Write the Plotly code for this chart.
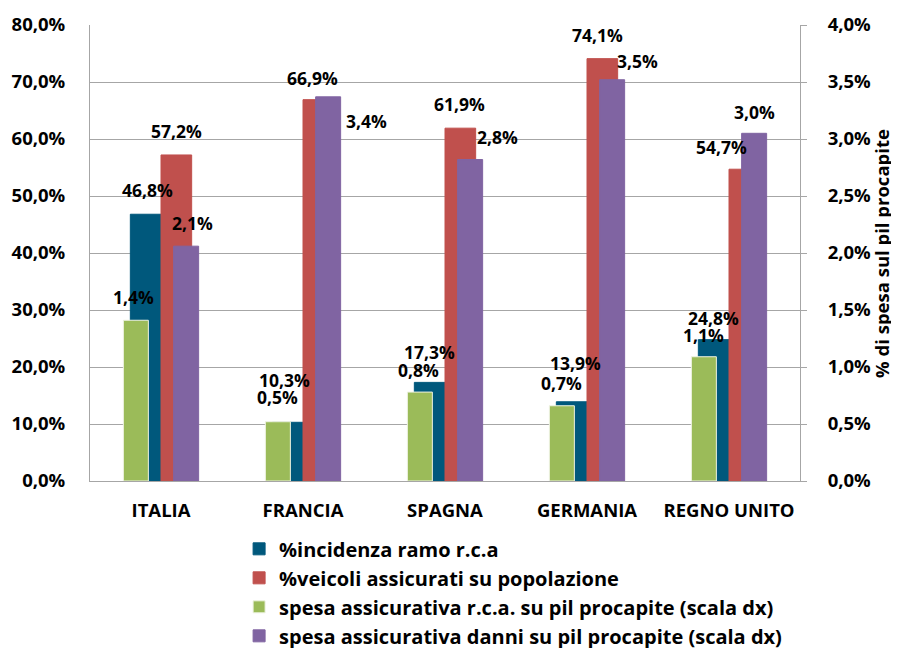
import plotly.graph_objects as go

paesi = ["ITALIA", "FRANCIA", "SPAGNA", "GERMANIA", "REGNO UNITO"]

# asse sinistro
incidenza_rca = [0.468, 0.103, 0.173, 0.139, 0.248]
veicoli_assicurati = [0.572, 0.669, 0.619, 0.741, 0.547]
# asse destro
spesa_rca_pil = [0.0141, 0.0052, 0.0078, 0.0066, 0.0109]
spesa_danni_pil = [0.0206, 0.0337, 0.0282, 0.0352, 0.0305]

nomi = [
    "%incidenza ramo r.c.a",
    "%veicoli assicurati su popolazione",
    "spesa assicurativa r.c.a. su pil procapite (scala dx)",
    "spesa assicurativa danni su pil procapite (scala dx)",
]
colori = ["#00587C", "#C0504D", "#9BBB59", "#8064A2"]
titolo_dx = "% di spesa sul pil procapite"

# posizione delle barre dentro la categoria (unità di categoria)
offsets = [-0.216, 0.0, -0.265, 0.089]
widths = [0.216, 0.216, 0.176, 0.176]
assi = ["y", "y", "y2", "y2"]

# spostamenti manuali delle etichette (px) come nel grafico excel
label_dx = [
    [2, -3, 0, 4, 0],
    [0, -6, -1, -5, -23],
    [-2, 0, -1, 0, 0],
    [6, 38, 27, 25, 0],
]
label_dy = [
    [-24, -42, -30, -39, -22],
    [-24, -22, -24, -24, -22],
    [-23, -25, -22, -23, -22],
    [-23, 24, -23, -19, -21],
]

FONT = "Open Sans"
serie = [incidenza_rca, veicoli_assicurati, spesa_rca_pil, spesa_danni_pil]
idx = list(range(len(paesi)))

fig = go.Figure()
for k, vals in enumerate(serie):
    fig.add_trace(go.Bar(
        x=idx, y=vals, name=nomi[k], yaxis=assi[k],
        offset=offsets[k], width=widths[k],
        marker=dict(color=colori[k],
                    line=dict(color="#EEF3E2" if k == 2 else colori[k], width=1)),
        hoverinfo="y",
    ))

ann = []
for k, vals in enumerate(serie):
    for j, v in enumerate(vals):
        txt = f"{v * 100:.1f}%".replace(".", ",")
        ann.append(dict(
            x=j + offsets[k] + widths[k] / 2, y=v, xref="x", yref=assi[k],
            text=txt, showarrow=False, xanchor="center", yanchor="middle",
            xshift=label_dx[k][j], yshift=-label_dy[k][j],
            font=dict(size=17.5, color="black", family=FONT, weight="bold"),
        ))

# titolo asse destro
ann.append(dict(
    text=titolo_dx, xref="paper", yref="paper", x=1.114, y=0.5,
    xanchor="center", yanchor="middle", textangle=-90, showarrow=False,
    font=dict(size=18.5, color="black", family=FONT, weight="bold"),
))

grid = "#A6A6A6"
fig.update_layout(
    width=891, height=640,
    barmode="overlay",
    separators=",.",
    plot_bgcolor="white", paper_bgcolor="white",
    font=dict(family=FONT, size=18, color="black", weight="bold"),
    margin=dict(l=82, r=99, t=17, b=167, autoexpand=False),
    annotations=ann,
    showlegend=True,
    legend=dict(
        xref="paper", yref="paper", x=0.21, y=-0.106,
        xanchor="left", yanchor="top", orientation="v",
        font=dict(size=20), tracegroupgap=0, itemwidth=30,
        bgcolor="rgba(0,0,0,0)",
    ),
    xaxis=dict(
        tickmode="array", tickvals=idx, ticktext=paesi,
        range=[-0.5, 4.5], showline=True, linecolor=grid, linewidth=1,
        ticks="", showgrid=False, tickfont=dict(size=18.5),
        ticklabelstandoff=13, zeroline=False,
    ),
    yaxis=dict(
        range=[0, 0.8], dtick=0.1, tickformat=".1%",
        showgrid=True, gridcolor=grid, gridwidth=1,
        showline=True, linecolor=grid, linewidth=1,
        ticks="", ticklabelstandoff=20, zeroline=False,
        tickfont=dict(size=18.5),
    ),
    yaxis2=dict(
        overlaying="y", side="right",
        range=[0, 0.04], dtick=0.005, tickformat=".1%",
        showgrid=False, showline=True, linecolor=grid, linewidth=1,
        ticks="outside", ticklen=6, tickcolor=grid, zeroline=False,
        ticklabelstandoff=17, tickfont=dict(size=18.5),
    ),
)

fig.write_html("out.html")
